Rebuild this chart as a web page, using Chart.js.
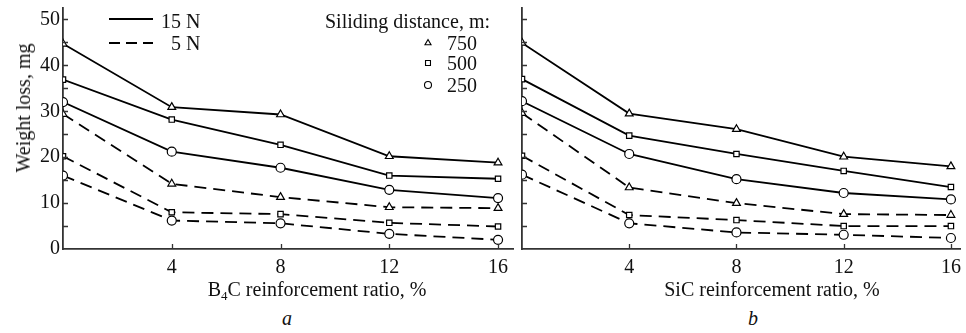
<!DOCTYPE html>
<html>
<head>
<meta charset="utf-8">
<script src="https://cdn.jsdelivr.net/npm/chart.js@4.4.1/dist/chart.umd.min.js"></script>
<style>
  body { margin: 0; background: #fff; overflow: hidden; }
  #page { position: relative; width: 966px; height: 333px; font-family: 'Liberation Serif', serif; color: #111; }
  .box { position: absolute; top: 0; height: 280px; }
  .lbl { position: absolute; font-size: 20px; line-height: 1; white-space: nowrap; transform: translate(-50%, -50%); }
  .lbl.left { transform: translate(0, -50%); }
  sub { font-size: 13px; vertical-align: -4px; line-height: 0; }
</style>
</head>
<body>
<div id="page">
  <div class="box" style="left:0;width:520px"><canvas id="chartA"></canvas></div>
  <div class="box" style="left:515px;width:451px"><canvas id="chartB"></canvas></div>

  <div class="lbl" style="left:23px;top:108px;transform:translate(-50%,-50%) rotate(-90deg)">Weight loss, mg</div>
  <div class="lbl left" style="left:161px;top:21px">15 N</div>
  <div class="lbl left" style="left:171px;top:43px">5 N</div>
  <div class="lbl left" style="left:325px;top:21px">Siliding distance, m:</div>
  <div class="lbl left" style="left:447px;top:43px">750</div>
  <div class="lbl left" style="left:447px;top:63px">500</div>
  <div class="lbl left" style="left:447px;top:85px">250</div>

  <div class="lbl" style="left:317px;top:289px">B<sub>4</sub>C reinforcement ratio, %</div>
  <div class="lbl" style="left:772px;top:289px">SiC reinforcement ratio, %</div>
  <div class="lbl" style="left:287px;top:318px;font-style:italic">a</div>
  <div class="lbl" style="left:753px;top:318px;font-style:italic">b</div>
</div>
<script>
// reinforcement ratio, %
const ratios = [0, 4, 8, 12, 16];
const xTicks = [4, 8, 12, 16];
const yTicks = [0, 10, 20, 30, 40, 50];

// B4C panel (a)
const b4c15N750 = [44.7, 30.9, 29.3, 20.2, 18.8];
const b4c15N500 = [36.9, 28.2, 22.7, 16.0, 15.3];
const b4c15N250 = [32.0, 21.2, 17.7, 12.9, 11.1];
const b4c5N750  = [29.4, 14.2, 11.3, 9.1, 8.9];
const b4c5N500  = [20.2, 8.0, 7.6, 5.7, 4.9];
const b4c5N250  = [16.0, 6.2, 5.6, 3.3, 2.0];

// SiC panel (b)
const sic15N750 = [44.9, 29.5, 26.1, 20.1, 18.0];
const sic15N500 = [37.0, 24.7, 20.7, 17.0, 13.5];
const sic15N250 = [32.2, 20.7, 15.2, 12.2, 10.8];
const sic5N750  = [29.6, 13.4, 10.0, 7.6, 7.4];
const sic5N500  = [20.3, 7.4, 6.3, 5.0, 5.0];
const sic5N250  = [16.2, 5.6, 3.6, 3.1, 2.4];

const FONT = { family: 'Liberation Serif', size: 20 };
const DASH = [12, 7];

function pts(arr) {
  return ratios.map((x, i) => ({ x: x, y: arr[i] }));
}

function series(arr, style, dashed) {
  return {
    data: pts(arr),
    borderColor: '#000',
    borderWidth: 1.8,
    borderDash: dashed ? DASH : [],
    pointStyle: style,
    pointRadius: style === 'rect' ? 3.8 : 4.5,
    pointBackgroundColor: '#fff',
    pointBorderColor: '#000',
    pointBorderWidth: 1.2,
    tension: 0
  };
}

// inner tick marks on both axes
const innerTicks = {
  id: 'innerTicks',
  afterDraw(chart) {
    const ctx = chart.ctx, a = chart.chartArea;
    const xs = chart.scales.x, ys = chart.scales.y;
    ctx.save();
    ctx.strokeStyle = '#333';
    ctx.lineWidth = 1.3;
    ctx.beginPath();
    for (let v = 5; v <= 50; v += 5) {
      const py = Math.round(ys.getPixelForValue(v)) + 0.5;
      ctx.moveTo(a.left, py);
      ctx.lineTo(a.left + 5, py);
    }
    xTicks.forEach(v => {
      const px = Math.round(xs.getPixelForValue(v)) + 0.5;
      ctx.moveTo(px, a.bottom);
      ctx.lineTo(px, a.bottom - 5);
    });
    ctx.stroke();
    ctx.restore();
  }
};

// legend sample lines and markers (left panel)
const legendMarks = {
  id: 'legendMarks',
  afterDraw(chart) {
    const ctx = chart.ctx;
    ctx.save();
    ctx.strokeStyle = '#000';
    ctx.lineWidth = 1.8;
    ctx.beginPath();
    ctx.moveTo(109, 19); ctx.lineTo(153, 19);
    ctx.stroke();
    ctx.setLineDash([11, 6]);
    ctx.beginPath();
    ctx.moveTo(109, 43); ctx.lineTo(153, 43);
    ctx.stroke();
    ctx.setLineDash([]);
    ctx.lineWidth = 1.1;
    ctx.fillStyle = '#fff';
    Chart.helpers.drawPoint(ctx, { pointStyle: 'triangle', radius: 3.5, borderWidth: 1.1 }, 428, 43);
    Chart.helpers.drawPoint(ctx, { pointStyle: 'rect', radius: 3.5, borderWidth: 1.1 }, 428, 63);
    Chart.helpers.drawPoint(ctx, { pointStyle: 'circle', radius: 3.5, borderWidth: 1.1 }, 428, 85);
    ctx.restore();
  }
};

function makeChart(id, sets, xMax, showYLabels, yWidth, padRight, extraPlugins) {
  const ctx = document.getElementById(id).getContext('2d');
  return new Chart(ctx, {
    type: 'line',
    data: { datasets: sets },
    options: {
      responsive: true,
      maintainAspectRatio: false,
      animation: false,
      events: [],
      layout: { padding: { top: 8, left: 0, right: padRight, bottom: 0 } },
      plugins: { legend: { display: false }, tooltip: { enabled: false } },
      scales: {
        x: {
          type: 'linear',
          min: 0,
          max: xMax,
          afterBuildTicks: s => { s.ticks = xTicks.map(v => ({ value: v })); },
          afterFit: s => { s.height = 31; s.paddingLeft = 0; s.paddingRight = 0; },
          grid: { display: false, drawTicks: false },
          border: { display: true, color: '#333', width: 1.8 },
          ticks: { font: FONT, color: '#111', padding: 7, maxRotation: 0 }
        },
        y: {
          min: 0,
          max: 52.5,
          afterBuildTicks: s => { s.ticks = yTicks.map(v => ({ value: v })); },
          afterFit: s => { s.width = yWidth; s.paddingTop = 0; s.paddingBottom = 0; },
          grid: { display: false, drawTicks: false },
          border: { display: true, color: '#333', width: 1.8 },
          ticks: { display: showYLabels, font: FONT, color: '#111', padding: 3 }
        }
      }
    },
    plugins: [innerTicks].concat(extraPlugins)
  });
}

makeChart('chartA', [
  series(b4c15N750, 'triangle', false),
  series(b4c15N500, 'rect', false),
  series(b4c15N250, 'circle', false),
  series(b4c5N750, 'triangle', true),
  series(b4c5N500, 'rect', true),
  series(b4c5N250, 'circle', true)
], 16.55, true, 63, 7, [legendMarks]);

makeChart('chartB', [
  series(sic15N750, 'triangle', false),
  series(sic15N500, 'rect', false),
  series(sic15N250, 'circle', false),
  series(sic5N750, 'triangle', true),
  series(sic5N500, 'rect', true),
  series(sic5N250, 'circle', true)
], 16.35, false, 7, 3, []);
</script>
</body>
</html>
